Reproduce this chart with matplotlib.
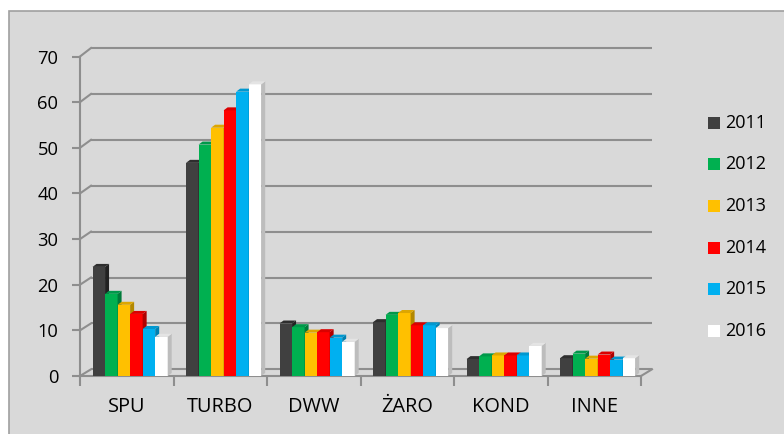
import matplotlib
matplotlib.use('Agg')
import matplotlib.pyplot as plt
from matplotlib.patches import Rectangle, Polygon
from matplotlib.lines import Line2D
from matplotlib.transforms import IdentityTransform
import numpy as np

plt.rcParams['font.family'] = ['Open Sans', 'DejaVu Sans']

# ---- data ----
categories = ['SPU', 'TURBO', 'DWW', 'ŻARO', 'KOND', 'INNE']
years = ['2011', '2012', '2013', '2014', '2015', '2016']
v2011 = [23.9, 46.7, 11.5, 11.8, 3.7, 3.9]
v2012 = [18.0, 50.7, 10.7, 13.4, 4.3, 4.9]
v2013 = [15.6, 54.4, 9.5, 13.8, 4.5, 3.8]
v2014 = [13.6, 58.2, 9.6, 11.1, 4.5, 4.7]
v2015 = [10.3, 62.3, 8.4, 11.1, 4.5, 3.6]
v2016 = [8.6, 63.9, 7.5, 10.5, 6.6, 3.9]
series = [v2011, v2012, v2013, v2014, v2015, v2016]
yticks = [0, 10, 20, 30, 40, 50, 60, 70]

# ---- styles ----
front_c = ['#404040', '#00B050', '#FFC000', '#FF0000', '#00B0F0', '#FFFFFF']
top_c = ['#2E2E2E', '#00984A', '#DDA600', '#DA0000', '#0098D0', '#E4E4E4']
side_c = ['#222222', '#007A3A', '#B38800', '#B00000', '#0080B0', '#BDBDBD']
grid_c = '#8E8E8E'
W, H = 784, 434

fig = plt.figure(figsize=(W / 100, H / 100), dpi=100)
fig.patch.set_facecolor('white')
fig.patches.append(Rectangle((9 / W, -0.05), 1.2, (H - 11) / H + 0.05,
                             transform=fig.transFigure, facecolor='#D9D9D9',
                             edgecolor='#A0A0A0', lw=1.2, zorder=-5))


def px_axes(l, t, r, b):
    return fig.add_axes([l / W, (H - b) / H, (r - l) / W, (b - t) / H])


n = len(categories)
xlim = (-0.5, n - 0.5)

back = px_axes(91, 48, 652, 369.3)
back.set_xlim(*xlim)
back.set_ylim(0, 70)
back.axis('off')
for v in yticks:
    back.plot(list(xlim), [v, v], color=grid_c, lw=1.5, solid_capstyle='butt', clip_on=False)

front = px_axes(80, 56.5, 641, 376)
front.set_facecolor('none')
front.set_xlim(*xlim)
front.set_ylim(0, 70)
for s in ['top', 'right']:
    front.spines[s].set_visible(False)
for s in ['left', 'bottom']:
    front.spines[s].set_color(grid_c)
    front.spines[s].set_linewidth(1.5)
front.set_yticks(yticks)
front.tick_params(axis='y', length=6, width=1.5, color=grid_c, labelsize=13.2, pad=9.5)
front.set_xticks(np.arange(n))
front.set_xticklabels(categories)
front.set_xticks(np.arange(n + 1) - 0.5, minor=True)
front.tick_params(axis='x', which='major', length=0, labelsize=14.4, pad=15)
front.tick_params(axis='x', which='minor', length=7, width=1.5, color=grid_c)

# diagonal connectors between front axis and back wall
def connect(x, v):
    p0 = front.transData.transform((x, v))
    p1 = back.transData.transform((x, v))
    fig.add_artist(Line2D([p0[0], p1[0]], [p0[1], p1[1]], transform=IdentityTransform(),
                          color=grid_c, lw=1.5, zorder=1))

for v in yticks:
    connect(xlim[0], v)
connect(xlim[1], 0)

# bars with pseudo-3D faces
w = 0.134
dx, dy = 4, 3
for i, vals in enumerate(series):
    xs = np.arange(n) + 0.036 + (i - 2.5) * w
    z = 3 + i
    front.bar(xs, vals, width=w, color=front_c[i], linewidth=0, zorder=z)
    for x, v in zip(xs, vals):
        xl, y0 = front.transData.transform((x - w / 2, 0))
        xr, yv = front.transData.transform((x + w / 2, v))
        top = Polygon([(xl, yv), (xr, yv), (xr + dx, yv + dy), (xl + dx, yv + dy)],
                      closed=True, transform=IdentityTransform(), facecolor=top_c[i],
                      edgecolor='none', zorder=z + 0.5, clip_on=False)
        side = Polygon([(xr, y0), (xr, yv), (xr + dx, yv + dy), (xr + dx, y0 + dy)],
                       closed=True, transform=IdentityTransform(), facecolor=side_c[i],
                       edgecolor='none', zorder=z + 0.4, clip_on=False)
        front.add_patch(top)
        front.add_patch(side)

# legend
for i, yr in enumerate(years):
    yc = 122.7 + i * 41.65
    fig.patches.append(Rectangle((708 / W, (H - yc - 6) / H), 12 / W, 12 / H,
                                 transform=fig.transFigure, facecolor=front_c[i],
                                 edgecolor='none', zorder=2))
    fig.text(725 / W, (H - yc) / H, yr, fontsize=13, va='center', ha='left')

fig.savefig('out.png', dpi=100)
